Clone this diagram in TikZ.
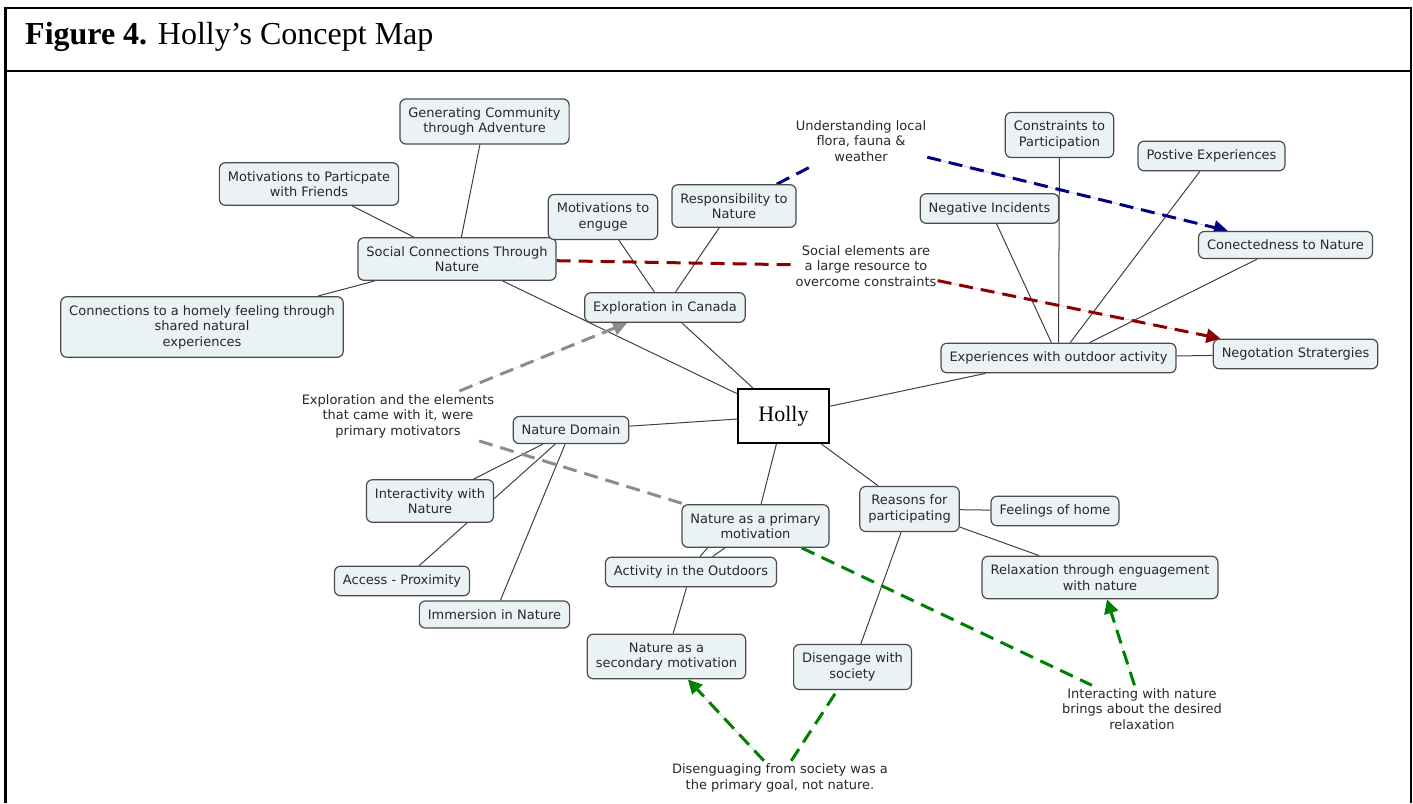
\documentclass[tikz,border=0pt]{standalone}
\usepackage{fontspec}
\setmainfont{Liberation Serif}
\newfontfamily\cmfont{DejaVu Sans}
\usetikzlibrary{arrows.meta,backgrounds,calc}
\definecolor{boxfill}{RGB}{235,242,245}
\definecolor{boxline}{RGB}{75,75,75}
\definecolor{txt}{RGB}{40,40,40}
\definecolor{navyc}{RGB}{0,0,128}
\definecolor{dred}{RGB}{139,0,0}
\definecolor{dgray}{RGB}{140,140,140}
\definecolor{dgreen}{RGB}{0,128,0}
\tikzset{
 concept/.style={draw=boxline, line width=1.2pt, fill=boxfill, rounded corners=6pt, align=center, inner xsep=8.5pt, inner ysep=8.5pt, font=\cmfont\fontsize{13}{15.5}\selectfont, text=txt},
 lbl/.style={align=center, inner xsep=1pt, inner ysep=3pt, font=\cmfont\fontsize{13}{15.5}\selectfont, text=txt},
 link/.style={draw=black!75, line width=1pt},
 dlink/.style={line width=3pt, dash pattern=on 14pt off 8pt},
 tipend/.style={-{Triangle[length=14pt,width=14pt]}},
}
\begin{document}
\begin{tikzpicture}[x=1pt,y=-1pt]
\useasboundingbox (0,0) rectangle (1413,803);
% frame
\draw[line width=2.5pt] (5.5,803) -- (5.5,8) -- (1411,8) -- (1411,803);
\draw[line width=2.5pt] (5.5,71) -- (1411,71);
\node[anchor=base west, inner sep=0pt, font=\fontsize{32}{34}\selectfont] (title) at (25,44) {\textbf{Figure 4.} Holly’s Concept Map};

% concepts
\node[concept] (A) at (484.5,121.5) {Generating Community\\through Adventure};
\node[concept] (B) at (309,184) {Motivations to Particpate\\with Friends};
\node[concept] (C) at (457,259) {Social Connections Through\\Nature};
\node[concept] (D) at (202,327) {Connections to a homely feeling through\\shared natural\\experiences};
\node[concept] (E) at (603,217) {Motivations to\\enguge};
\node[concept] (F) at (734,206) {Responsibility to\\Nature};
\node[concept] (G) at (665,307.5) {Exploration in Canada};
\node[lbl] (H) at (861,141) {Understanding local\\flora, fauna \&\\weather};
\node[concept] (I) at (1059.5,135) {Constraints to\\Participation};
\node[concept] (J) at (1211.5,156) {Postive Experiences};
\node[concept] (K) at (989.5,208.5) {Negative Incidents};
\node[concept] (L) at (1285.5,245) {Conectedness to Nature};
\node[lbl] (M) at (866,266) {Social elements are\\a large resource to\\overcome constraints};
\node[concept] (N) at (1058.5,358) {Experiences with outdoor activity};
\node[concept] (O) at (1295.5,354) {Negotation Stratergies};
\node[draw=black, line width=2pt, fill=white, minimum width=91pt, minimum height=54pt, inner sep=0pt, font=\fontsize{22}{26}\selectfont] (P) at (783.5,416) {Holly};
\node[lbl] (Q) at (398,416) {Exploration and the elements\\that came with it, were\\primary motivators};
\node[concept] (R) at (571,430) {Nature Domain};
\node[concept] (S) at (430,501) {Interactivity with\\Nature};
\node[concept] (T) at (402,581) {Access - Proximity};
\node[concept] (U) at (494.5,614.5) {Immersion in Nature};
\node[concept] (V) at (755.5,526) {Nature as a primary\\motivation};
\node[concept] (W) at (691,572) {Activity in the Outdoors};
\node[concept] (X) at (666.5,656.5) {Nature as a\\secondary motivation};
\node[concept] (Y) at (909.5,509) {Reasons for\\participating};
\node[concept] (Z) at (1055,511) {Feelings of home};
\node[concept] (AA) at (1100,577.5) {Relaxation through enguagement\\with nature};
\node[concept] (AB) at (852.5,667) {Disengage with\\society};
\node[lbl] (AC) at (1142,709) {Interacting with nature\\brings about the desired\\relaxation};
\node[lbl] (AD) at (780,778) {Disenguaging from society was a\\the primary goal, not nature.};

\begin{scope}[on background layer]
% solid links
\draw[link] (P) -- (C);
\draw[link] (P) -- (G);
\draw[link] (P) -- (R);
\draw[link] (P) -- (V);
\draw[link] (P) -- (Y);
\draw[link] (P) -- (N);
\draw[link] (C) -- (A);
\draw[link] (C) -- (B);
\draw[link] (C) -- (D);
\draw[link] (G) -- (E);
\draw[link] (G) -- (F);
\draw[link] (N) -- (K);
\draw[link] (N) -- (I);
\draw[link] (N) -- (J);
\draw[link] (N) -- (L);
\draw[link] (N) -- (O);
\draw[link] (R) -- (S);
\draw[link] (R) -- (T);
\draw[link] (R) -- (U);
\draw[link] (V) -- (W);
\draw[link] (W) -- (X);
\draw[link] ($(V.south)+(-48,0)$) -- ($(W.north)+(9,0)$);
\draw[link] (Y) -- (Z);
\draw[link] (Y) -- (AA);
\draw[link] (Y) -- (AB);
% dashed links
\draw[dlink, draw=navyc, fill=navyc, tipend] (H) -- (L);
\draw[dlink, draw=navyc] (F) -- (H);
\draw[dlink, draw=dred] (C) -- (M);
\draw[dlink, draw=dred, fill=dred, tipend] (M) -- (O);
\draw[dlink, draw=dgray, fill=dgray, tipend] (Q) -- (G);
\draw[dlink, draw=dgray] (Q) -- (V);
\draw[dlink, draw=dgreen] (V) -- (AC);
\draw[dlink, draw=dgreen, fill=dgreen, tipend] (AC) -- (AA);
\draw[dlink, draw=dgreen, fill=dgreen, tipend] (AD) -- (X);
\draw[dlink, draw=dgreen] (AD) -- (AB);
\end{scope}
\end{tikzpicture}
\end{document}
